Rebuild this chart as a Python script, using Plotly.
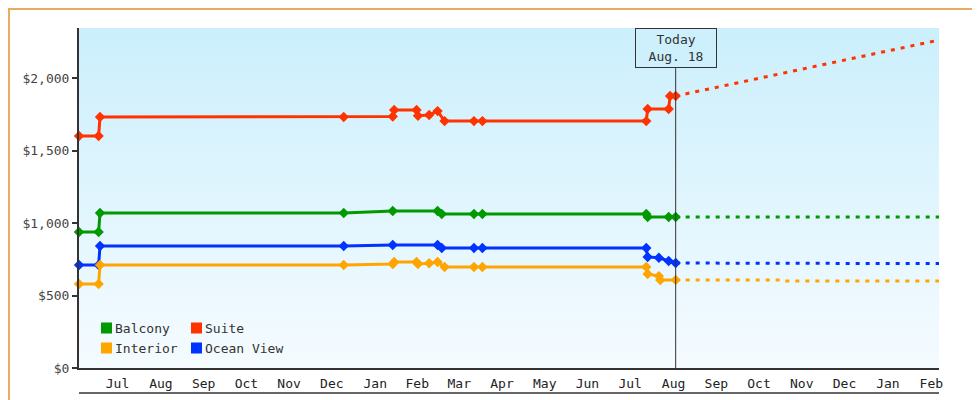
import plotly.graph_objects as go

FONT = "DejaVu Sans Mono"
X0, X1 = "2023-06-19", "2025-02-22"
TODAY = "2024-08-18"

suite_dates = ["2023-06-19","2023-07-03","2023-07-04","2023-12-25","2024-01-29","2024-01-30","2024-02-15","2024-02-16","2024-02-24","2024-03-01","2024-03-06","2024-03-27","2024-04-02","2024-07-28","2024-07-29","2024-08-13","2024-08-14","2024-08-18"]
suite_vals = [1600,1600,1731,1731,1735,1779,1779,1740,1745,1772,1703,1703,1703,1703,1786,1786,1876,1876]
suite_fc_dates = ["2024-08-18","2025-02-22"]
suite_fc_vals = [1876,2262]

balc_dates = ["2023-06-19","2023-07-03","2023-07-04","2023-12-25","2024-01-29","2024-03-01","2024-03-04","2024-03-27","2024-04-02","2024-07-28","2024-07-29","2024-08-13","2024-08-18"]
balc_vals = [938,938,1069,1069,1083,1083,1062,1062,1062,1062,1041,1041,1041]
balc_fc_dates = ["2024-08-18","2025-02-22"]
balc_fc_vals = [1041,1041]

ocean_dates = ["2023-06-19","2023-07-03","2023-07-04","2023-12-25","2024-01-29","2024-03-01","2024-03-04","2024-03-27","2024-04-02","2024-07-28","2024-07-29","2024-08-06","2024-08-13","2024-08-18"]
ocean_vals = [710,710,841,841,848,848,828,828,828,828,766,760,738,724]
ocean_fc_dates = ["2024-08-18","2024-11-01","2024-11-02","2025-02-22"]
ocean_fc_vals = [724,724,720,720]

int_dates = ["2023-06-19","2023-07-03","2023-07-04","2023-12-25","2024-01-29","2024-01-30","2024-02-15","2024-02-16","2024-02-24","2024-03-01","2024-03-06","2024-03-27","2024-04-02","2024-07-28","2024-07-29","2024-08-06","2024-08-07","2024-08-18"]
int_vals = [579,579,710,710,717,731,731,717,722,731,697,697,697,697,648,634,607,607]
int_fc_dates = ["2024-08-18","2024-11-01","2024-11-02","2025-02-22"]
int_fc_vals = [607,607,600,600]

series = [
    ("Suite", "#ff3300", suite_dates, suite_vals, suite_fc_dates, suite_fc_vals),
    ("Balcony", "#009900", balc_dates, balc_vals, balc_fc_dates, balc_fc_vals),
    ("Ocean View", "#0033ff", ocean_dates, ocean_vals, ocean_fc_dates, ocean_fc_vals),
    ("Interior", "#ffa500", int_dates, int_vals, int_fc_dates, int_fc_vals),
]

YMAX = 2345
fig = go.Figure()
fig.add_trace(go.Scatter(x=[X0, X1, X1, X0, X0], y=[0, 0, YMAX, YMAX, 0], fill="toself",
                         mode="none", hoverinfo="skip", showlegend=False,
                         fillgradient=dict(type="vertical", colorscale=[[0, "#f5fbff"], [1, "#cbeffc"]])))
for name, c, d, v, fd, fv in series:
    fig.add_trace(go.Scatter(x=fd, y=fv, mode="lines", line=dict(color=c, width=3, dash="4px,6px"), showlegend=False))
    fig.add_trace(go.Scatter(x=d, y=v, mode="lines+markers", name=name,
                             line=dict(color=c, width=3), marker=dict(symbol="diamond", size=8, color=c),
                             showlegend=False, cliponaxis=False))

fig.add_shape(type="line", x0=TODAY, x1=TODAY, y0=0, y1=0.882, yref="paper", line=dict(color="#333", width=1))
fig.add_annotation(x=TODAY, y=1, yref="paper", yanchor="top", text="Today<br>Aug. 18", showarrow=False,
                   font=dict(family=FONT, size=13, color="#333"), bordercolor="#333", borderwidth=1,
                   bgcolor="rgba(205,239,252,0.9)", borderpad=3, width=74)
# bottom axis line
fig.add_shape(type="line", xref="paper", yref="paper", x0=0, x1=1, y0=-25/340, y1=-25/340, line=dict(color="#333", width=1.5))
# frame
fig.add_shape(type="rect", xref="paper", yref="paper", x0=-70/860, x1=1+48/860, y0=-39/340, y1=1+19/340,
              line=dict(color="#e8aa66", width=2))

legend = [("Balcony", "#009900", 0), ("Suite", "#ff3300", 1), ("Interior", "#ffa500", 2), ("Ocean View", "#0033ff", 3)]
for name, c, i in legend:
    col, row = i % 2, i // 2
    px0 = 93 + col * 90 - 71
    py = 320 + row * 20
    fig.add_shape(type="rect", xref="paper", yref="paper", x0=px0/860, x1=(px0+11)/860,
                  y0=(360-py-5.5)/340, y1=(360-py+5.5)/340, fillcolor=c, line=dict(width=0))
    fig.add_annotation(xref="paper", yref="paper", x=(px0+12)/860, y=(360-py)/340, text=name, showarrow=False,
                       xanchor="left", yanchor="middle", font=dict(family=FONT, size=13, color="#333"))

fig.update_layout(
    width=980, height=400, margin=dict(l=71, r=49, t=20, b=40, autoexpand=False),
    paper_bgcolor="white", plot_bgcolor="rgba(0,0,0,0)", showlegend=False,
    font=dict(family=FONT, size=12, color="#333"),
    xaxis=dict(range=[X0, X1], type="date", dtick="M1", tick0="2023-07-01", tickformat="%b",
               ticklabelmode="period", ticks="outside", ticklen=2, tickcolor="rgba(0,0,0,0)",
               minor=dict(dtick="M1", tick0="2023-07-01", ticks="outside", ticklen=25, tickcolor="#333", showgrid=False),
               showgrid=False, showline=True, linecolor="#333", linewidth=2, zeroline=False, automargin=False,
               tickfont=dict(family=FONT, size=13, color="#222")),
    yaxis=dict(range=[0, YMAX], tickvals=[0, 500, 1000, 1500, 2000], tickformat="$,",
               ticks="outside", ticklen=5, tickwidth=2, tickcolor="#333", showgrid=False, automargin=False,
               showline=True, linecolor="#333", linewidth=2, zeroline=False,
               tickfont=dict(family=FONT, size=13, color="#444")),
)
fig.write_html("out.html")
